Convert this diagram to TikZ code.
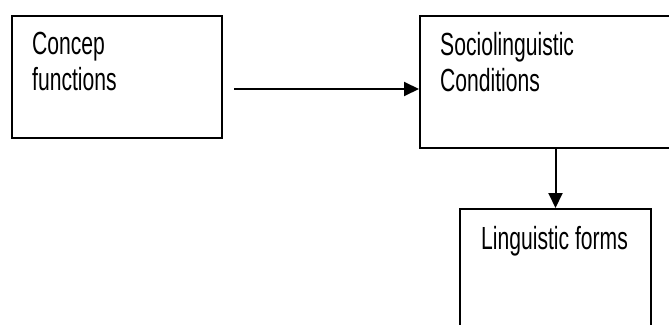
\documentclass[tikz,border=0pt]{standalone}
\usepackage{fontspec}
\setmainfont[FakeStretch=0.66]{Liberation Sans}
\usetikzlibrary{arrows.meta,positioning}

\begin{document}
\begin{tikzpicture}[
  x=1pt,y=-1pt,
  box/.style={rectangle,draw,line width=2pt,anchor=north west,inner sep=0pt},
  lbl/.style={anchor=base west,align=left,inner sep=0pt,
              font=\fontsize{32}{36}\selectfont},
  arr/.style={-{Triangle[length=15pt,width=14pt]},line width=2pt},
]
\useasboundingbox (0,0) rectangle (669,324);
\clip (0,0) rectangle (669,324);

\node[box,minimum width=210pt,minimum height=122pt] (concep) at (11,15) {};
\node[box,minimum width=270pt,minimum height=132pt] (socio) at (419,15) {};
\node[box,minimum width=191pt,minimum height=140pt] (ling) at (459,208) {};

% base of a two-line node is its last line
\node[lbl] (concep-txt) at (32,90) {Concep\\functions};
\node[lbl] (socio-txt) at (440,91) {Sociolinguistic\\Conditions};
\node[lbl] (ling-txt) at (481,249) {Linguistic forms};

\coordinate (start) at (234,89);
\draw[arr] (start) -- (start -| socio.west);
\draw[arr] (ling.north |- socio.south) -- (ling.north);

\end{tikzpicture}
\end{document}
